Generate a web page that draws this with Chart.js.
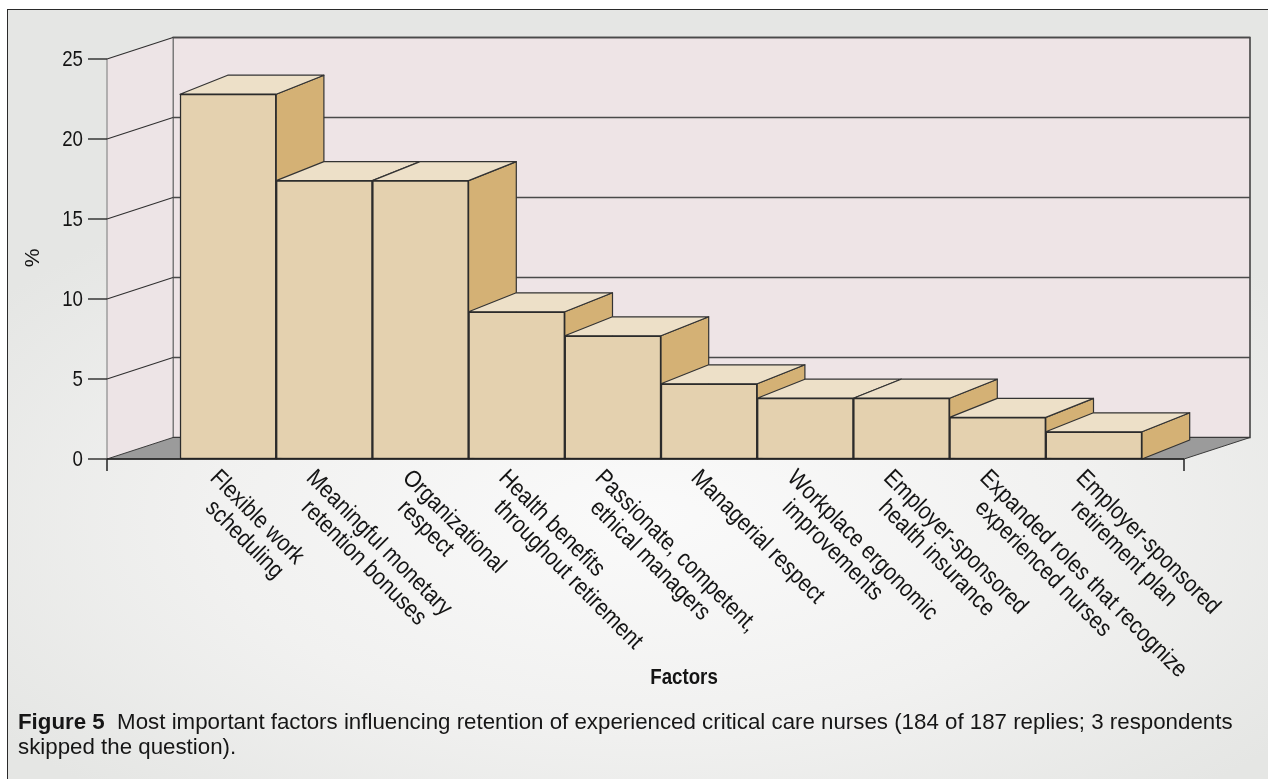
<!DOCTYPE html>
<html>
<head>
<meta charset="utf-8">
<script src="https://cdn.jsdelivr.net/npm/chart.js@4.4.1/dist/chart.umd.min.js"></script>
<style>
  html, body { margin: 0; padding: 0; width: 1268px; height: 779px; overflow: hidden; background: #fff; }
  #frame {
    position: absolute; left: 7px; top: 9px; width: 1280px; height: 790px;
    border-left: 1.5px solid #2a2a2a; border-top: 1.5px solid #2a2a2a;
    background: radial-gradient(ellipse 62% 48% at 50% 64%, #fafafa 0%, #f1f1f0 55%, #e5e6e4 100%);
  }
  #chart { position: absolute; left: 0; top: 0; }
  #caption {
    position: absolute; left: 18px; top: 709px; width: 1248px;
    font: 22.3px 'Liberation Sans', Arial, sans-serif; line-height: 25px; color: #161616;
  }
</style>
</head>
<body>
<div id="frame"></div>
<canvas id="chart" width="1268" height="779"></canvas>
<div id="caption"><b>Figure 5</b>&nbsp; Most important factors influencing retention of experienced critical care nurses (184 of 187 replies; 3 respondents<br>skipped the question).</div>
<script>
// data
const factors = [
  ['Flexible work', 'scheduling'],
  ['Meaningful monetary', 'retention bonuses'],
  ['Organizational', 'respect'],
  ['Health benefits', 'throughout retirement'],
  ['Passionate, competent,', 'ethical managers'],
  ['Managerial respect'],
  ['Workplace ergonomic', 'improvements'],
  ['Employer-sponsored', 'health insurance'],
  ['Expanded roles that recognize', 'experienced nurses'],
  ['Employer-sponsored', 'retirement plan']
];
const percents = [22.8, 17.4, 17.4, 9.2, 7.7, 4.7, 3.8, 3.8, 2.6, 1.7];
const yTicks = [0, 5, 10, 15, 20, 25];

// 3d look
const AXIS_LEFT = 107, AXIS_RIGHT = 1184;
const WALL_DX = 66, WALL_DY = -21.5;
const BAR_DX = 47.7, BAR_DY = -19;
const SANS = "'Liberation Sans', Arial, sans-serif";
const NARROW_X = 0.85; // no narrow face installed, squeeze the regular one

function poly(ctx, pts, fill, stroke, lw) {
  ctx.beginPath();
  ctx.moveTo(pts[0][0], pts[0][1]);
  for (let i = 1; i < pts.length; i++) ctx.lineTo(pts[i][0], pts[i][1]);
  ctx.closePath();
  if (fill) { ctx.fillStyle = fill; ctx.fill(); }
  if (stroke) { ctx.strokeStyle = stroke; ctx.lineWidth = lw || 1; ctx.stroke(); }
}

function narrowText(ctx, s, x, y, sx) {
  ctx.save();
  ctx.translate(x, y);
  ctx.scale(sx || NARROW_X, 1);
  ctx.fillText(s, 0, 0);
  ctx.restore();
}

const box3d = {
  id: 'box3d',
  beforeDatasetsDraw(chart) {
    const ctx = chart.ctx, y = chart.scales.y;
    const top = y.getPixelForValue(25), bot = y.getPixelForValue(0);
    const bl = AXIS_LEFT + WALL_DX, br = AXIS_RIGHT + WALL_DX;
    ctx.save();
    // back wall
    poly(ctx, [[bl, top + WALL_DY], [br, top + WALL_DY], [br, bot + WALL_DY], [bl, bot + WALL_DY]], '#eee4e6', '#3a3a3a', 1.5);
    // side wall
    poly(ctx, [[AXIS_LEFT, top], [bl, top + WALL_DY], [bl, bot + WALL_DY], [AXIS_LEFT, bot]], '#ede4e6', null);
    ctx.strokeStyle = '#8a8a8a'; ctx.lineWidth = 1.2;
    ctx.beginPath(); ctx.moveTo(AXIS_LEFT, top); ctx.lineTo(AXIS_LEFT, bot); ctx.stroke();
    ctx.beginPath(); ctx.moveTo(bl, top + WALL_DY); ctx.lineTo(bl, bot + WALL_DY); ctx.stroke();
    // grid lines
    yTicks.forEach(v => {
      if (v === 0) return;
      const py = y.getPixelForValue(v);
      ctx.strokeStyle = '#2f2f2f'; ctx.lineWidth = 1.1;
      ctx.beginPath(); ctx.moveTo(AXIS_LEFT, py); ctx.lineTo(bl, py + WALL_DY); ctx.stroke();
      ctx.strokeStyle = '#4a4a4a'; ctx.lineWidth = 1.4;
      ctx.beginPath(); ctx.moveTo(bl, py + WALL_DY); ctx.lineTo(br, py + WALL_DY); ctx.stroke();
    });
    // floor
    poly(ctx, [[AXIS_LEFT, bot], [bl, bot + WALL_DY], [br, bot + WALL_DY], [AXIS_RIGHT, bot]], '#9b9b9b', '#3a3a3a', 1);
    ctx.restore();
  },
  afterDatasetsDraw(chart) {
    const ctx = chart.ctx, y = chart.scales.y;
    const meta = chart.getDatasetMeta(0);
    ctx.save();
    ctx.lineJoin = 'round';
    meta.data.forEach(el => {
      const l = el.x - el.width / 2, r = el.x + el.width / 2, t = el.y, b = el.base;
      poly(ctx, [[r, t], [r + BAR_DX, t + BAR_DY], [r + BAR_DX, b + BAR_DY], [r, b]], '#d4b175', '#333', 1.2);
      poly(ctx, [[l, t], [l + BAR_DX, t + BAR_DY], [r + BAR_DX, t + BAR_DY], [r, t]], '#ede0c8', '#333', 1.2);
      el.draw(ctx);
    });
    const bot = y.getPixelForValue(0);
    ctx.strokeStyle = '#222'; ctx.lineWidth = 1.5;
    ctx.beginPath();
    ctx.moveTo(AXIS_LEFT, bot); ctx.lineTo(AXIS_RIGHT, bot);
    ctx.moveTo(AXIS_LEFT, bot); ctx.lineTo(AXIS_LEFT, bot + 12);
    ctx.moveTo(AXIS_RIGHT, bot); ctx.lineTo(AXIS_RIGHT, bot + 12);
    ctx.stroke();
    ctx.restore();
  },
  afterDraw(chart) {
    const ctx = chart.ctx, y = chart.scales.y, x = chart.scales.x;
    ctx.save();
    ctx.fillStyle = '#141414';
    // y ticks
    ctx.font = '22px ' + SANS;
    ctx.textAlign = 'right'; ctx.textBaseline = 'middle';
    yTicks.forEach(v => {
      const py = y.getPixelForValue(v);
      ctx.strokeStyle = '#2a2a2a'; ctx.lineWidth = 1.4;
      ctx.beginPath(); ctx.moveTo(88, py); ctx.lineTo(AXIS_LEFT, py); ctx.stroke();
      narrowText(ctx, String(v), 83, py + 1);
    });
    // y title
    ctx.save();
    ctx.translate(33, 258); ctx.rotate(-Math.PI / 2);
    ctx.textAlign = 'center'; ctx.font = '21px ' + SANS;
    ctx.fillText('%', 0, 0);
    ctx.restore();
    // category labels, rotated 45 deg clockwise
    ctx.font = '24px ' + SANS;
    ctx.textAlign = 'left'; ctx.textBaseline = 'alphabetic';
    factors.forEach((lines, i) => {
      const cx = x.getPixelForValue(i);
      ctx.save();
      ctx.translate(cx - 7, 467);
      ctx.rotate(Math.PI / 4);
      lines.forEach((s, k) => narrowText(ctx, s, k * 17.7, 17 + k * 24.7, 0.87));
      ctx.restore();
    });
    // x title
    ctx.font = 'bold 22px ' + SANS;
    ctx.textAlign = 'center';
    narrowText(ctx, 'Factors', 684, 684);
    ctx.restore();
  }
};

new Chart(document.getElementById('chart'), {
  type: 'bar',
  data: {
    labels: factors,
    datasets: [{
      data: percents,
      backgroundColor: '#e4d1af',
      borderColor: '#2b2b2b',
      borderWidth: 1.5,
      borderSkipped: false,
      categoryPercentage: 1,
      barPercentage: 1
    }]
  },
  options: {
    responsive: false,
    animation: false,
    layout: { padding: { left: 180, right: 126, top: 59, bottom: 320 } },
    scales: {
      x: { display: false },
      y: { display: false, min: 0, max: 25 }
    },
    plugins: { legend: { display: false }, tooltip: { enabled: false } }
  },
  plugins: [box3d]
});
</script>
</body>
</html>
